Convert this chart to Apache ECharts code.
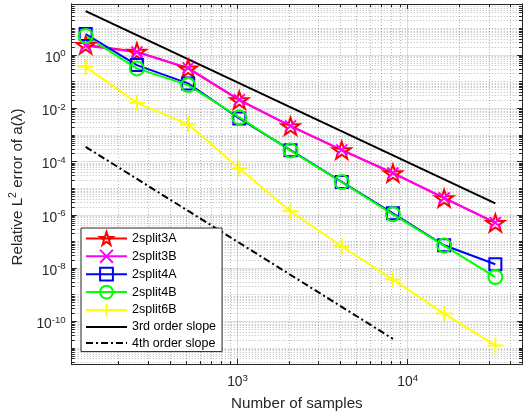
<!DOCTYPE html>
<html><head><meta charset="utf-8">
<script src="https://cdn.jsdelivr.net/npm/echarts@6/dist/echarts.min.js"></script>
<style>html,body{margin:0;padding:0;background:#fff}#c{width:524px;height:416px}</style>
</head><body><div id="c"></div>
<script>
// ---- data ----
const SERIES_NAMES = ['2split3A', '2split3B', '2split4A', '2split4B', '2split6B', '3rd order slope', '4th order slope'];
const X_SAMPLES = [128, 256, 512, 1024, 2048, 4096, 8192, 16384, 32768];
const ERR_3A = [2.38, 1.33, 0.316, 0.0203, 2.14e-3, 2.68e-4, 3.66e-5, 4.21e-6, 4.96e-7];
const ERR_3B = [2.25, 1.30, 0.330, 0.0210, 2.20e-3, 2.75e-4, 3.75e-5, 4.30e-6, 5.10e-7];
const ERR_4A = [6.2, 0.421, 0.0863, 4.17e-3, 2.68e-4, 1.73e-5, 1.15e-6, 7.2e-8, 1.39e-8];
const ERR_4B = [5.18, 0.316, 0.0745, 4.55e-3, 2.60e-4, 1.70e-5, 1.05e-6, 7.0e-8, 4.62e-9];
const ERR_6B = [0.363, 0.0161, 2.55e-3, 5.5e-5, 1.37e-6, 6.6e-8, 3.7e-9, 1.95e-10, 1.25e-11];
const SLOPE3_X = [128, 32768];
const SLOPE3_Y = [45, 2.7e-6];
const SLOPE4_X = [128, 8192];
const SLOPE4_Y = [3.57e-4, 2.2e-11];

// ---- axes / ticks ----
const X_MIN = 106, X_MAX = 47000;
const Y_MIN = 2.5e-12, Y_MAX = 83;
const X_MAJOR = [1000, 10000];
const Y_MAJOR = [1e0, 1e-2, 1e-4, 1e-6, 1e-8, 1e-10];
const X_DECADES = [2, 3, 4];
const Y_DECADES = [-12, -11, -10, -9, -8, -7, -6, -5, -4, -3, -2, -1, 0, 1];
const MANT = [1, 2, 3, 4, 5, 6, 7, 8, 9];

function minorTicks(decades, majors, lo, hi) {
  const out = [];
  decades.forEach(function (d) {
    MANT.forEach(function (m) {
      const v = m * Math.pow(10, d);
      const isMajor = majors.some(function (t) { return Math.abs(v - t) / t < 1e-9; });
      if (!isMajor && v > lo && v < hi) out.push(v);
    });
  });
  return out;
}
const X_MINOR = minorTicks(X_DECADES, X_MAJOR, X_MIN, X_MAX);
const Y_MINOR = minorTicks(Y_DECADES, Y_MAJOR, Y_MIN, Y_MAX);

const FONT = '"Liberation Sans", Arial, Helvetica, sans-serif';
const AX = '#262626';
const MAJOR_GRID = 'rgba(38,38,38,0.15)';
const MINOR_GRID = 'rgba(38,38,38,0.32)';

function powFmt(v) {
  const e = Math.round(Math.log10(v));
  return '{b|10}{s|' + e + '}';
}
const tickRich = {
  b: { fontSize: 13.8, color: AX, fontFamily: FONT },
  s: { fontSize: 9.7, color: AX, fontFamily: FONT, padding: [0, 0, 9, 0] }
};

function axis(kind, pos, major, ticks, split, extra) {
  const isX = kind === 'x';
  const a = {
    type: 'log',
    logBase: 10,
    min: isX ? X_MIN : Y_MIN,
    max: isX ? X_MAX : Y_MAX,
    position: pos,
    axisLine: { show: true, onZero: false, lineStyle: { color: AX, width: 1 } },
    axisTick: { show: true, inside: true, length: major ? 5 : 3, customValues: ticks, lineStyle: { color: AX, width: 1 } },
    minorTick: { show: false },
    axisLabel: { show: false },
    splitLine: { show: false },
    minorSplitLine: { show: false }
  };
  if (split === 'major') a.splitLine = { show: true, lineStyle: { color: MAJOR_GRID, width: 1, type: 'solid' } };
  if (split === 'minor') a.splitLine = { show: true, lineStyle: { color: MINOR_GRID, width: 1, type: [1, 2] } };
  return Object.assign(a, extra || {});
}

const xAxes = [
  axis('x', 'bottom', true, X_MAJOR, 'major', {
    axisLabel: { show: true, customValues: X_MAJOR, formatter: powFmt, rich: tickRich, margin: 9 },
    name: 'Number of samples', nameLocation: 'middle', nameGap: 32,
    nameTextStyle: { fontSize: 15.2, color: AX, fontFamily: FONT }
  }),
  axis('x', 'bottom', false, X_MINOR, 'minor'),
  axis('x', 'top', true, X_MAJOR, null),
  axis('x', 'top', false, X_MINOR, null)
];
const yAxes = [
  axis('y', 'left', true, Y_MAJOR, 'major', {
    axisLabel: { show: true, customValues: Y_MAJOR, formatter: powFmt, rich: tickRich, margin: 6, padding: [6, 0, 0, 0] },
    name: '{a|Relative L}{s|2}{a| error of a(λ)}', nameLocation: 'middle', nameGap: 43,
    nameTextStyle: {
      padding: [0, 6, 0, 0],
      rich: {
        a: { fontSize: 15.2, color: AX, fontFamily: FONT },
        s: { fontSize: 10.5, color: AX, fontFamily: FONT, padding: [0, 0, 9, 0] }
      }
    }
  }),
  axis('y', 'left', false, Y_MINOR, 'minor'),
  axis('y', 'right', true, Y_MAJOR, null),
  axis('y', 'right', false, Y_MINOR, null)
];

function pairs(xs, ys) { return xs.map(function (x, i) { return [x, ys[i]]; }); }

const STAR = 'path://M50,0 L61.8,35.1 L98.9,35.1 L68.9,56.8 L80.3,91.9 L50,70.2 L19.7,91.9 L31.1,56.8 L1.1,35.1 L38.2,35.1 Z';
const XMARK = 'path://M0,0 L10,10 M10,0 L0,10';
const PLUS = 'path://M5,0 L5,10 M0,5 L10,5';

function dataSeries(name, ys, color, symbol, size) {
  return {
    name: name, type: 'line', xAxisIndex: 0, yAxisIndex: 0,
    data: pairs(X_SAMPLES, ys),
    symbol: symbol, symbolSize: size, symbolKeepAspect: true, showSymbol: true,
    lineStyle: { color: color, width: 2 },
    itemStyle: { color: 'rgba(0,0,0,0)', borderColor: color, borderWidth: 2 },
    emphasis: { disabled: true }, silent: true
  };
}

const series = [
  dataSeries(SERIES_NAMES[0], ERR_3A, '#ff0000', STAR, 18),
  dataSeries(SERIES_NAMES[1], ERR_3B, '#ff00ff', XMARK, 11),
  dataSeries(SERIES_NAMES[2], ERR_4A, '#0000ff', 'rect', 12),
  dataSeries(SERIES_NAMES[3], ERR_4B, '#00ff00', 'circle', 14),
  dataSeries(SERIES_NAMES[4], ERR_6B, '#ffff00', PLUS, 16),
  {
    name: SERIES_NAMES[5], type: 'line', xAxisIndex: 0, yAxisIndex: 0,
    data: pairs(SLOPE3_X, SLOPE3_Y), symbol: 'circle', showSymbol: false,
    lineStyle: { color: '#000', width: 2 }, itemStyle: { color: '#000', opacity: 0 },
    emphasis: { disabled: true }, silent: true
  },
  {
    name: SERIES_NAMES[6], type: 'line', xAxisIndex: 0, yAxisIndex: 0,
    data: pairs(SLOPE4_X, SLOPE4_Y), symbol: 'circle', showSymbol: false,
    lineStyle: { color: '#000', width: 2, type: [7, 3, 2, 3] }, itemStyle: { color: '#000', opacity: 0 },
    emphasis: { disabled: true }, silent: true
  }
];

const chart = echarts.init(document.getElementById('c'), null, { renderer: 'canvas' });
chart.setOption({
  animation: false,
  backgroundColor: '#fff',
  grid: { left: 70, right: 2, top: 4, bottom: 52, containLabel: false },
  xAxis: xAxes,
  yAxis: yAxes,
  legend: {
    left: 81, top: 228, orient: 'vertical',
    padding: [3, 6, 2, 4], itemGap: 3.1, itemWidth: 41, itemHeight: 16, itemTextGap: 3,
    backgroundColor: '#fff', borderColor: AX, borderWidth: 1, borderRadius: 0,
    textStyle: { fontSize: 12.5, fontFamily: FONT, color: '#000' },
    selectedMode: false,
    data: SERIES_NAMES.slice(0, 5).concat([
      { name: SERIES_NAMES[5], itemStyle: { opacity: 0 } },
      { name: SERIES_NAMES[6], itemStyle: { opacity: 0 } }
    ])
  },
  series: series
});
</script></body></html>
